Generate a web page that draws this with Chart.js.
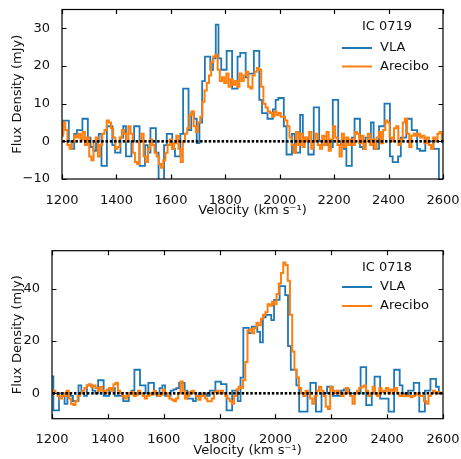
<!DOCTYPE html>
<html>
<head>
<meta charset="utf-8">
<script src="https://cdn.jsdelivr.net/npm/chart.js@4.4.1/dist/chart.umd.min.js"></script>
<style>
  html, body { margin: 0; padding: 0; background: #fff; }
  body { width: 461px; height: 459px; position: relative; overflow: hidden; }
  canvas { position: absolute; left: 0; }
  #c1 { top: 0; }
  #c2 { top: 230px; }
</style>
</head>
<body>
<canvas id="c1" width="461" height="230"></canvas>
<canvas id="c2" width="461" height="229"></canvas>
<script>
// ---------------- DATA ----------------
const xTicks = [1200, 1400, 1600, 1800, 2000, 2200, 2400, 2600];
const galaxyTop = "IC 0719";
const galaxyBottom = "IC 0718";
const seriesNames = ["VLA", "Arecibo"];

// VLA channels (10 km/s spacing starting at 1200)
const vlaStart = 1200, vlaStep = 10;
const vla0719 = [
  2, 5.5, 5.5, 0, -2, 2, 3, 3, 6, 6,
  1, -1.5, -2.5, 0, 2, -6.5, -6.5, 4, 4, -1,
  -3, -3, 1, 4, -4, -4, 0, 4, 4, -6.5,
  -6.5, -1, -3, 3.5, 3.5, -3, -10.5, -10.5, -1, 2,
  2, -2, -4, -4, 2, 14, 14, 3, 7.5, 6,
  -0.5, 5, 16, 22.5, 22.5, 19, 22, 31, 22, 19,
  19, 24, 24, 14, 14, 22.5, 23.5, 23.5, 17, 18,
  18, 24, 24, 11, 7.5, 7.5, 6, 6, 8.5, 11,
  11.5, 11.5, 4, -3.5, -3.5, 2, -3, -3, 7, 1,
  1, -3.5, -3.5, 9, 9, 0, -1, -1, 0, -1.5,
  11, 11, 0, -1, -2, -6.5, -6.5, 1, 6, 6,
  -1.5, -2, 1, 1, 5, -2, -2, 4, 4, 10,
  10, -4, -5.5, -5.5, -4, 1, 1, 6, 6, 3,
  3, -2, -2.5, -2.5, 0, 0, 0, -2, -2, -10.5,
  -10.5
];
const vla0718 = [
  6.5, -6.5, -6.5, 0, -1, -4, 0, -1, -3, -3,
  3, 0, -1, 3, 3, 1, 0, 5, 5, -1,
  -1, 1, 2, -1, -1, -1, -3, -3, 0, 1,
  9, 9, 3, 3, 0, 4, 4, 0, -1, 2,
  3, -1, -1, 1, 1.5, 2, 4, 4, 1, -2,
  -2, -3, -1, 0, -1, 0, -1, 1, 1, 4.5,
  4.5, 3.5, 3.5, -6.5, -6.5, 1, 1, -3, 6, 25,
  25, 23, 25.5, 25.5, 23.5, 19.5, 29, 30, 30, 28,
  35.7, 35.7, 41, 41, 37.5, 18, 9, 9, 3, -7,
  -7, -7, 0, 4, 4, -7, -7, 0, 0, 2.5,
  2.5, -1, -1, -1, 1, 1.5, 1.5, 0, 0, 0,
  0, 10, 10, -4.5, -4.5, 0, 6.4, 6.4, -2, -2,
  -2, -7, -7, 9, 9, 3, 0, -1, 1, 1,
  4, 4, -7, -7, 1, 1, 5.5, 5.5, 2.5, 0,
  0
];

// Arecibo channels (8 km/s spacing starting at 1200)
const areStart = 1200, areStep = 8;
const are0719 = [
  1.5, 5, 3, -1, -2, 0, 1.5, 1, 2, 0.5,
  2.5, -1, 1, -4, -5, 0, 1, -4, -1, 2,
  3, 5.5, 5, 3.5, 1, -2, -1.5, 1, 3, 2,
  0, 4, 2, -3, -5.5, -6, 0, 2, -4, -5.5,
  -2, 0.5, -1, -3, -4, -6, -7, -5, -3, -1,
  0.5, -2, -0.5, 1.5, -2, -5.5, 0, 2, 3.5, 7,
  8, 4, 2.5, 5, 6.5, 10.5, 13.5, 15.5, 17.5, 21,
  22.5, 23, 19, 16, 17, 15.5, 18, 14.5, 16.5, 15,
  16, 14.5, 18, 16, 17.5, 18.5, 14.5, 14, 17.5, 18.5,
  19.5, 19, 14.5, 10, 9, 8, 7.5, 6.5, 8, 7,
  7.5, 6.5, 6.5, 5.5, 4, 1, -1, -3, 2.5, -1,
  2, -1.5, 1, 0, 2.5, -2, 0, 2, -1, -2,
  1.5, -1, 2.5, -2.5, 0.5, 4, 1, -1, -4, 2,
  -1.5, 1, -1, 0.5, -1, 2.5, 2, -0.5, 1.5, -2,
  0, 2, -1, 0.5, -2, 1, 2.5, -0.5, 3, 5.5,
  5, 1, 0, 3.5, 4, -1, 0.5, 5, 6, 2,
  -1.5, 1.5, 2, 1.5, 2, 1, 1.5, -0.5, 1, -1,
  -2, 1, 0, 2, 2.5, 0.5
];
const are0718 = [
  1, 1, 0, -1, -2, 0, -1, 1, -2, -4,
  -4.5, -3, -1, 0, 1, 2, 3, 3.5, 2.5, 3,
  2, 1, 2.5, 1, 0, 1.5, 2, 1, 3.5, 4,
  1, 0, -1, -2, -1, 0, 0.5, -1, -0.5, 1,
  0, -1, -2, -1, 0, -0.5, 1, 0, -1, -0.5,
  1.5, 0, -1, -2, -2.5, -3, -2, 0, 4.5, 1,
  -2, -1, 0.5, 1, 0, -1, -2.5, -1, 0, -2,
  -3, -3, -2, 0.5, 1, 0, 1, 0, -1, -2,
  -3, -4, -1, 1.5, 2.5, 2, 5, 12, 24, 24.5,
  23, 25, 27, 26, 28.5, 30, 31, 34, 33.5, 35,
  34, 38, 42, 46, 50, 49, 43, 30, 16, 9,
  6, 2, 0, -1, 1, 0, -2, -4, -1, 1,
  2.5, 1, -1, -5, -6, 2.5, 1, 0, 1, 0,
  -1, 0, 2, 0, -1, -4, 0, 1, 2, 2.5,
  3, 1, -1, 0, 2.5, 0, -1, 2, 0.5, 1,
  2, 0, 1.5, 1, 2, 0, -1, -1, -0.5, -1,
  -1, -1.5, -1, 0, -0.5, -1, -1, -3, -4, -1,
  0, 1, 0, 0.5, 0, 0
];

// ---------------- HELPERS ----------------
const BLUE = '#1f77b4', ORANGE = '#ff7f0e';
const FONT = "'DejaVu Sans', 'Liberation Sans', sans-serif";

function toPoints(start, step, vals) {
  return vals.map((v, i) => ({ x: start + i * step, y: v }));
}

function zeroPad(s) {
  s.paddingTop = 0; s.paddingBottom = 0; s.paddingLeft = 0; s.paddingRight = 0;
}

const framePlugin = {
  id: 'frame',
  afterDatasetsDraw(chart, args, opts) {
    const { ctx, chartArea: a, scales } = chart;
    const x = scales.x, y = scales.y;
    // dotted zero line (square dots)
    const y0 = y.getPixelForValue(0);
    const xa = x.getPixelForValue(1200), xb = x.getPixelForValue(2600);
    ctx.save();
    ctx.fillStyle = '#000';
    for (let px = xa + 0.5; px < xb - 1; px += 4.3) {
      ctx.fillRect(px, y0 - 1.3, 2.5, 2.6);
    }
    ctx.restore();

    ctx.save();
    ctx.strokeStyle = '#000';
    ctx.lineWidth = 1.2;
    ctx.strokeRect(a.left, a.top, a.right - a.left, a.bottom - a.top);
    const L = 4.5;
    ctx.beginPath();
    x.ticks.forEach(t => {
      const px = Math.round(x.getPixelForValue(t.value)) + 0.5;
      ctx.moveTo(px, a.bottom); ctx.lineTo(px, a.bottom - L);
      ctx.moveTo(px, a.top); ctx.lineTo(px, a.top + L);
    });
    y.ticks.forEach(t => {
      const py = Math.round(y.getPixelForValue(t.value)) + 0.5;
      ctx.moveTo(a.left, py); ctx.lineTo(a.left + L, py);
      ctx.moveTo(a.right, py); ctx.lineTo(a.right - L, py);
    });
    ctx.stroke();

    // legend (inside axes, upper right)
    const lg = opts.legend;
    ctx.font = '13px ' + FONT;
    ctx.fillStyle = '#111';
    ctx.textBaseline = 'middle';
    ctx.textAlign = 'center';
    ctx.fillText(lg.title, lg.titleX, lg.titleY);
    ctx.textAlign = 'left';
    lg.items.forEach((it, i) => {
      const yy = lg.firstY + i * lg.rowH;
      ctx.strokeStyle = it.color;
      ctx.lineWidth = 2;
      ctx.beginPath();
      ctx.moveTo(lg.lineX0, yy); ctx.lineTo(lg.lineX1, yy);
      ctx.stroke();
      ctx.fillStyle = '#111';
      ctx.fillText(it.label, lg.textX, yy);
    });
    ctx.restore();
  }
};

function makeChart(id, cfg) {
  const datasets = [
    {
      label: seriesNames[1],
      data: toPoints(areStart, areStep, cfg.are),
      borderColor: ORANGE, borderWidth: 2, stepped: 'middle',
      pointRadius: 0, order: 1
    },
    {
      label: seriesNames[0],
      data: toPoints(vlaStart, vlaStep, cfg.vla),
      borderColor: BLUE, borderWidth: 1.8, stepped: 'middle',
      pointRadius: 0, order: 2
    }
  ];
  return new Chart(document.getElementById(id), {
    type: 'line',
    data: { datasets },
    options: {
      responsive: false,
      animation: false,
      events: [],
      layout: { padding: { top: cfg.padTop, right: 18, left: 0, bottom: 0 } },
      plugins: {
        legend: { display: false },
        tooltip: { enabled: false },
        frame: { legend: cfg.legend }
      },
      scales: {
        x: {
          type: 'linear', min: 1200, max: 2600,
          afterBuildTicks: s => { s.ticks = xTicks.map(v => ({ value: v })); },
          afterFit: s => { s.height = cfg.xHeight; zeroPad(s); },
          grid: { display: false },
          border: { display: false },
          ticks: { padding: cfg.xTickPad, color: '#111', font: { family: FONT, size: 13 },
                   maxRotation: 0, autoSkip: false, callback: v => String(v) },
          title: { display: true, text: 'Velocity (km s\u207B\u00B9)', color: '#111',
                   font: { family: FONT, size: 13 }, padding: { top: 0, bottom: cfg.xTitlePad } }
        },
        y: {
          type: 'linear', min: cfg.yMin, max: cfg.yMax,
          afterFit: s => { s.width = cfg.yWidth; zeroPad(s); },
          grid: { display: false },
          border: { display: false },
          ticks: { stepSize: cfg.yStep, includeBounds: false, padding: 4, color: '#111',
                   font: { family: FONT, size: 13 },
                   callback: v => (v < 0 ? '\u2212' + Math.abs(v) : String(v)) },
          title: { display: true, text: 'Flux Density (mJy)', color: '#111',
                   font: { family: FONT, size: 13 }, padding: { top: 10, bottom: 0 } }
        }
      }
    },
    plugins: [framePlugin]
  });
}

makeChart('c1', {
  vla: vla0719, are: are0719,
  yMin: -10, yMax: 35, yStep: 10,
  padTop: 9.5, xHeight: 51, yWidth: 62, xTickPad: 6, xTitlePad: 12,
  legend: { title: galaxyTop, titleX: 387, titleY: 27, firstY: 48, rowH: 18.5,
            lineX0: 342, lineX1: 372, textX: 380,
            items: [{ label: seriesNames[0], color: BLUE }, { label: seriesNames[1], color: ORANGE }] }
});
makeChart('c2', {
  vla: vla0718, are: are0718,
  yMin: -9.7, yMax: 54.5, yStep: 20,
  padTop: 20.7, xHeight: 40.3, yWidth: 52, xTickPad: 5.5, xTitlePad: 1,
  legend: { title: galaxyBottom, titleX: 387, titleY: 38, firstY: 57, rowH: 19,
            lineX0: 342, lineX1: 372, textX: 380,
            items: [{ label: seriesNames[0], color: BLUE }, { label: seriesNames[1], color: ORANGE }] }
});
</script>
</body>
</html>
